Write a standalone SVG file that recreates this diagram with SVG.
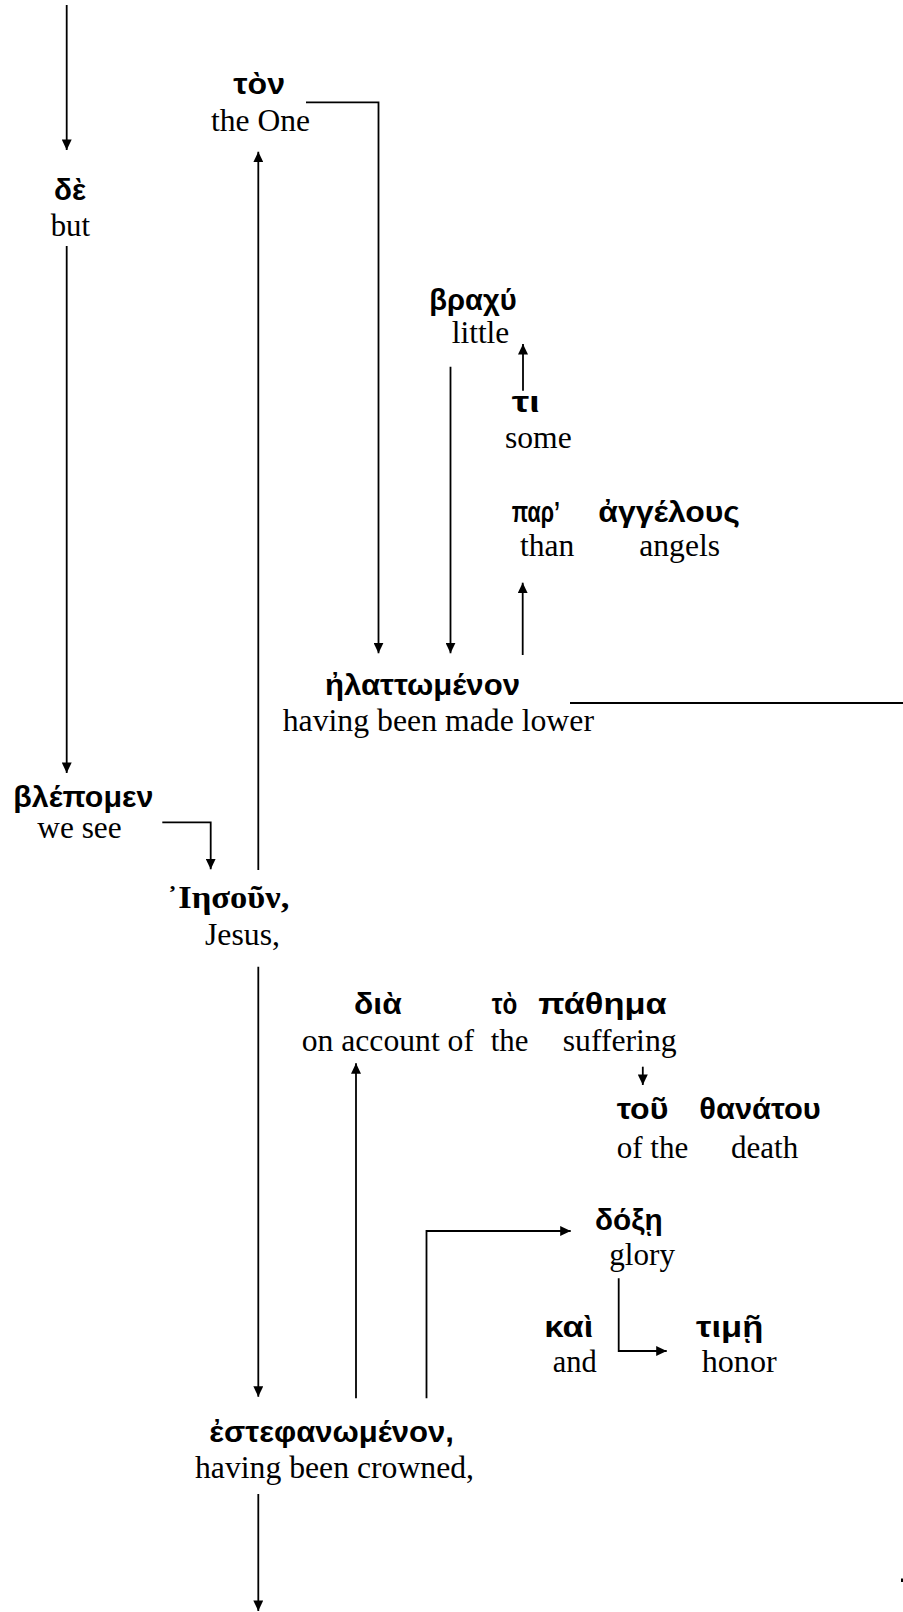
<svg xmlns="http://www.w3.org/2000/svg" width="903" height="1612" viewBox="0 0 903 1612">
<style>
.g{font-family:"Liberation Sans","DejaVu Sans",sans-serif;font-weight:bold;font-size:29px;fill:#000}
.gs{font-family:"Liberation Serif","DejaVu Serif",serif;font-weight:bold;font-size:32px;fill:#000}
.e{font-family:"Liberation Serif","Times New Roman",serif;font-size:31px;fill:#000}
.c{fill:none;stroke:#000;stroke-width:1.8}
.a{marker-end:url(#ah)}
</style>
<defs>
<marker id="ah" markerUnits="userSpaceOnUse" markerWidth="11" markerHeight="10" refX="10" refY="4.75" orient="auto" viewBox="0 0 10 9.5">
<path d="M0,0 L10,4.75 L0,9.5 z" fill="#000"/>
</marker>
</defs>
<rect width="903" height="1612" fill="#fff"/>
<g id="connectors">
<path class="c a" d="M66.7,5 V150"/>
<path class="c a" d="M66.7,246 V773"/>
<path class="c a" d="M162.3,822.3 H210.7 V869.3"/>
<path class="c a" d="M258.3,870 V151.7"/>
<path class="c a" d="M306,102.3 H378.5 V653.3"/>
<path class="c a" d="M450.5,366.7 V653.3"/>
<path class="c a" d="M523,390.7 V344"/>
<path class="c a" d="M522.7,655 V582.7"/>
<path class="c" d="M570,703 H903"/>
<path class="c a" d="M258.3,966.7 V1396.7"/>
<path class="c a" d="M356,1398.3 V1063.3"/>
<path class="c a" d="M426.5,1398.3 V1231 H570.7"/>
<path class="c a" d="M642.8,1066.7 V1085"/>
<path class="c a" d="M618.7,1278.3 V1351 H666.7"/>
<path class="c a" d="M258.3,1494 V1611"/>
<rect x="901" y="1578.5" width="2" height="3.5" fill="#000"/>
</g>
<g id="n-de"><text class="g" x="54" y="200" textLength="32" lengthAdjust="spacingAndGlyphs">δὲ</text><text class="e" x="50.7" y="236" textLength="39.3" lengthAdjust="spacingAndGlyphs">but</text></g>
<g id="n-ton"><text class="g" x="233.3" y="94" textLength="51.7" lengthAdjust="spacingAndGlyphs">τὸν</text><text class="e" x="211" y="130.7" textLength="99" lengthAdjust="spacingAndGlyphs">the One</text></g>
<g id="n-brachy"><text class="g" x="429.3" y="310" textLength="87.4" lengthAdjust="spacingAndGlyphs">βραχύ</text><text class="e" x="451.7" y="342.7" textLength="57.6" lengthAdjust="spacingAndGlyphs">little</text></g>
<g id="n-ti"><text class="g" x="511.7" y="412" textLength="28.3" lengthAdjust="spacingAndGlyphs">τι</text><text class="e" x="505" y="448.3" textLength="66.7" lengthAdjust="spacingAndGlyphs">some</text></g>
<g id="n-par"><text class="g" x="511.7" y="522" textLength="48.3" lengthAdjust="spacingAndGlyphs">παρ’</text><text class="e" x="520" y="556" textLength="54.3" lengthAdjust="spacingAndGlyphs">than</text></g>
<g id="n-angelous"><text class="g" x="598.3" y="522" textLength="141.7" lengthAdjust="spacingAndGlyphs">ἀγγέλους</text><text class="e" x="639.3" y="556" textLength="80.7" lengthAdjust="spacingAndGlyphs">angels</text></g>
<g id="n-elattomenon"><text class="g" x="325" y="695" textLength="195" lengthAdjust="spacingAndGlyphs">ἠλαττωμένον</text><text class="e" x="282.7" y="730.7" textLength="311.3" lengthAdjust="spacingAndGlyphs">having been made lower</text></g>
<g id="n-blepomen"><text class="g" x="13.3" y="807" textLength="140" lengthAdjust="spacingAndGlyphs">βλέπομεν</text><text class="e" x="37.3" y="838.3" textLength="84.4" lengthAdjust="spacingAndGlyphs">we see</text></g>
<g id="n-iesoun"><text class="gs" x="166.7" y="908.3" textLength="122.6" lengthAdjust="spacingAndGlyphs">᾿Ιησοῦν,</text><text class="e" x="205" y="945" textLength="75" lengthAdjust="spacingAndGlyphs">Jesus,</text></g>
<g id="n-dia"><text class="g" x="354" y="1014" textLength="47.7" lengthAdjust="spacingAndGlyphs">διὰ</text><text class="e" x="301.7" y="1050.7" textLength="172.3" lengthAdjust="spacingAndGlyphs">on account of</text></g>
<g id="n-to"><text class="g" x="491.7" y="1014" textLength="25.6" lengthAdjust="spacingAndGlyphs">τὸ</text><text class="e" x="490.7" y="1050.7" textLength="37.6" lengthAdjust="spacingAndGlyphs">the</text></g>
<g id="n-pathema"><text class="g" x="538.3" y="1014" textLength="128.4" lengthAdjust="spacingAndGlyphs">πάθημα</text><text class="e" x="562.7" y="1050.7" textLength="114" lengthAdjust="spacingAndGlyphs">suffering</text></g>
<g id="n-tou"><text class="g" x="616.7" y="1119.3" textLength="51.6" lengthAdjust="spacingAndGlyphs">τοῦ</text><text class="e" x="616.7" y="1158.3" textLength="71.6" lengthAdjust="spacingAndGlyphs">of the</text></g>
<g id="n-thanatou"><text class="g" x="699.3" y="1119.3" textLength="121.4" lengthAdjust="spacingAndGlyphs">θανάτου</text><text class="e" x="731" y="1158.3" textLength="67.3" lengthAdjust="spacingAndGlyphs">death</text></g>
<g id="n-doxe"><text class="g" x="595" y="1230" textLength="67.7" lengthAdjust="spacingAndGlyphs">δόξῃ</text><text class="e" x="609.3" y="1265" textLength="65.7" lengthAdjust="spacingAndGlyphs">glory</text></g>
<g id="n-kai"><text class="g" x="544.3" y="1336.7" textLength="49" lengthAdjust="spacingAndGlyphs">καὶ</text><text class="e" x="552.7" y="1371.7" textLength="44" lengthAdjust="spacingAndGlyphs">and</text></g>
<g id="n-time"><text class="g" x="696" y="1336.7" textLength="67.3" lengthAdjust="spacingAndGlyphs">τιμῇ</text><text class="e" x="701.7" y="1371.7" textLength="75" lengthAdjust="spacingAndGlyphs">honor</text></g>
<g id="n-estephanomenon"><text class="g" x="209.3" y="1441.7" textLength="244.7" lengthAdjust="spacingAndGlyphs">ἐστεφανωμένον,</text><text class="e" x="195" y="1478.3" textLength="279" lengthAdjust="spacingAndGlyphs">having been crowned,</text></g>
</svg>
